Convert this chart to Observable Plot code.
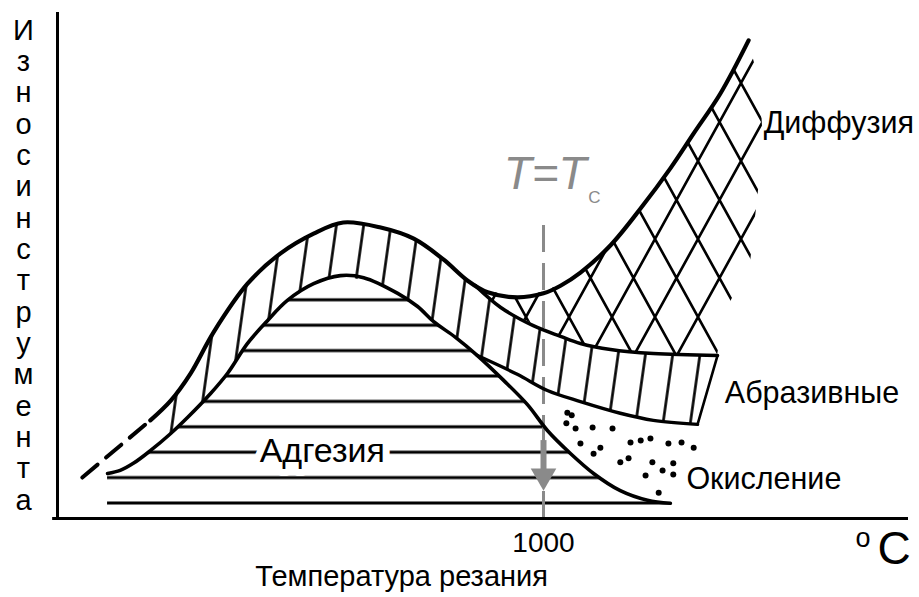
<!DOCTYPE html>
<html><head><meta charset="utf-8">
<script src="https://cdn.jsdelivr.net/npm/d3@7"></script>
<script src="https://cdn.jsdelivr.net/npm/@observablehq/plot@0.6"></script>
<style>body{margin:0;background:#fff}</style>
</head><body><div id="chart"></div>
<script>
// ---- data (x: cutting temperature, °C; y: tool wear, arbitrary units) ----
const xTicks = [1000];
const tCritical = 1000;
const yLabelText = "Износ инструмента";
const xLabelText = "Температура резания";

const outerDash = [[51, 8.1], [191, 19.4]];
const outerCurve = [[191,19.4],[233,23.3],[274,28.7],[321,36.8],[391,46.4],[459,52.4],[527,56.3],[588,58.5],[665,57.5],[733,55.3],[794,51.2],[844,47.0],[885,44.7],[946,43.7],[1000,44.5],[1035,46.0],[1076,48.6],[1138,54.0],[1200,61.3],[1261,69.2],[1309,76.1],[1364,84.0],[1422,94.5]];
const adhesionCurve = [[103,8.9],[129,9.5],[156,10.9],[191,13.4],[233,16.8],[268,20.0],[315,24.7],[350,28.7],[391,34.6],[432,39.1],[473,43.1],[527,46.4],[582,48.0],[630,47.6],[700,44.5],[741,41.9],[774,38.9],[819,35.8],[864,32.2],[918,27.3],[967,22.5],[1008,17.4],[1056,12.8],[1103,8.9],[1158,5.5],[1214,3.6],[1261,3.0]];
const abrasionCurve = [[864,32.2],[946,28.5],[1008,25.3],[1076,23.1],[1158,20.8],[1226,19.4],[1317,18.6]];
const diffusionEdge = [[860,46.0],[912,41.7],[979,38.1],[1035,36.0],[1076,34.6],[1138,33.4],[1226,32.6],[1358,32.2]];
const bandEnd = [[1358,32.2],[1317,18.6]];

const bandX      = [191,233,274,321,391,459,527,588,665,733,794,844,864,912,946,1008,1076,1138,1226,1317,1358];
const bandTop    = [19.4,23.3,28.7,36.8,46.4,52.4,56.3,58.5,57.5,55.3,51.2,47.0,45.7,41.7,39.9,37.0,34.6,33.4,32.6,32.3,32.2];
const bandBottom = [13.4,16.8,20.7,25.1,34.6,41.7,46.4,48.0,46.0,42.5,37.5,33.8,32.2,30.0,28.5,25.3,23.1,21.3,19.4,18.6,32.2];

const diffX      = [864,912,946,1008,1076,1138,1200,1226,1261,1309,1358,1364,1374,1422,1426,1446,1453];
const diffTop    = [45.8,44.3,43.7,44.9,48.6,54.0,61.3,64.6,69.2,76.1,83.2,84.0,85.9,94.5,93.0,85.6,73.1];
const diffBottom = [45.6,41.7,39.9,37.0,34.6,33.4,32.8,32.6,32.5,32.3,32.2,35.4,40.7,49.8,50.6,68.0,73.1];

const adhesionBase = 2.0;
const oxidationDots = [[1047,18.8],[1066,17.8],[1058,20.4],[1049,20.9],[1101,18.0],[1142,17.8],[1076,14.8],[1103,12.8],[1117,14.0],[1179,15.0],[1200,15.4],[1220,15.8],[1257,14.8],[1284,15.0],[1309,14.0],[1158,11.1],[1175,11.9],[1224,11.1],[1245,9.5],[1267,10.9],[1210,8.5],[1267,8.7],[1237,5.1]];

const regionLabels = [
  {text: "Диффузия",   x: 1453, y: 76.1},
  {text: "Абразивные", x: 1373, y: 22.9},
  {text: "Окисление",  x: 1294, y: 5.9},
];
const adhesionLabel = {text: "Адгезия", x: 416, y: 11.1};

// ---- tables built from the arrays ----
const band = bandX.map((x, i) => ({x, top: bandTop[i], bottom: bandBottom[i]}));
const diff = diffX.map((x, i) => ({x, top: diffTop[i], bottom: diffBottom[i]}));

const black = "#000";
const gray = "#8a8a8a";

const chart = Plot.plot({
  width: 919,
  height: 597,
  marginLeft: 57,
  marginRight: 11,
  marginTop: 12,
  marginBottom: 79,
  style: {fontFamily: "'Liberation Sans', Arial, sans-serif", background: "#fff", overflow: "visible"},
  x: {domain: [0, 1751], label: null},
  y: {domain: [0, 100], axis: null},
  marks: [
    Plot.areaY(adhesionCurve, {x: d => d[0], y1: adhesionBase, y2: d => d[1], curve: "catmull-rom", fill: "url(#hatchH)"}),
    Plot.areaY(band, {x: "x", y1: "bottom", y2: "top", fill: "url(#hatchV)"}),
    Plot.areaY(diff, {x: "x", y1: "bottom", y2: "top", fill: "url(#hatchX)"}),
    Plot.dot(oxidationDots, {x: d => d[0], y: d => d[1], r: 3, fill: black}),
    Plot.ruleX([tCritical], {y1: 0, y2: 59.5, stroke: gray, strokeWidth: 3, strokeDasharray: "27,11"}),
    Plot.ruleX([tCritical], {y1: 9.5, y2: 15.4, stroke: gray, strokeWidth: 6}),
    Plot.dot([tCritical], {x: d => d, y: 8.4, symbol: "triangle", rotate: 180, r: 9.5, fill: gray}),
    Plot.line(outerDash, {x: d => d[0], y: d => d[1], stroke: black, strokeWidth: 4, strokeDasharray: "20,11"}),
    Plot.line(outerCurve, {x: d => d[0], y: d => d[1], curve: "catmull-rom", stroke: black, strokeWidth: 4.2}),
    Plot.line(adhesionCurve, {x: d => d[0], y: d => d[1], curve: "catmull-rom", stroke: black, strokeWidth: 3.6}),
    Plot.line(abrasionCurve, {x: d => d[0], y: d => d[1], curve: "catmull-rom", stroke: black, strokeWidth: 3.4}),
    Plot.line(diffusionEdge, {x: d => d[0], y: d => d[1], curve: "catmull-rom", stroke: black, strokeWidth: 3.6}),
    Plot.line(bandEnd, {x: d => d[0], y: d => d[1], stroke: black, strokeWidth: 2.6}),
    Plot.ruleX([0], {stroke: black, strokeWidth: 3}),
    Plot.ruleY([0], {x1: -10, x2: 1751, stroke: black, strokeWidth: 3}),
    Plot.axisX({ticks: xTicks, tickSize: 0, tickPadding: 14, tickFormat: "d", fontSize: 28, fill: black, label: null}),
    Plot.text([adhesionLabel], {x: "x", y: "y", text: "text", textAnchor: "start", lineAnchor: "bottom", fontSize: 34, fill: black, stroke: "#fff", strokeWidth: 14, paintOrder: "stroke"}),
    Plot.text(regionLabels, {x: "x", y: "y", text: "text", textAnchor: "start", lineAnchor: "bottom", fontSize: 30.5, fill: black}),
    Plot.text(["T=T"], {x: 918, y: 65.2, text: d => d, textAnchor: "start", lineAnchor: "bottom", fontSize: 46, fontStyle: "italic", fill: gray}),
    Plot.text(["C"], {x: 1092, y: 62.4, text: d => d, textAnchor: "start", lineAnchor: "bottom", fontSize: 17, fill: gray}),
    Plot.text([xLabelText], {x: 407, y: -13.4, text: d => d, textAnchor: "start", lineAnchor: "bottom", fontSize: 29, fill: black}),
    Plot.text(["o"], {x: 1642, y: -5.7, text: d => d, textAnchor: "start", lineAnchor: "bottom", fontSize: 27, fill: black}),
    Plot.text(["C"], {x: 1687, y: -8.9, text: d => d, textAnchor: "start", lineAnchor: "bottom", fontSize: 46, fill: black}),
    Plot.text([yLabelText.replace(/\s+/g, "").split("").join("\n")], {frameAnchor: "top-left", dx: -34, dy: 5, text: d => d, lineAnchor: "top", textAnchor: "middle", fontSize: 29, lineHeight: 1.08, fill: black})
  ]
});

const ns = "http://www.w3.org/2000/svg";
const defs = document.createElementNS(ns, "defs");
defs.innerHTML = `
<pattern id="hatchH" patternUnits="userSpaceOnUse" x="0" y="7.7" width="20" height="25.4">
  <line x1="-1" x2="21" y1="12.7" y2="12.7" stroke="#000" stroke-width="3"/>
</pattern>
<pattern id="hatchV" patternUnits="userSpaceOnUse" x="0" y="0" width="27" height="27" patternTransform="rotate(8)">
  <line x1="13.5" x2="13.5" y1="-1" y2="28" stroke="#000" stroke-width="2.6"/>
</pattern>
<pattern id="hatchX" patternUnits="userSpaceOnUse" x="10" y="5" width="43" height="78">
  <path d="M0,0L43,78M0,78L43,0" stroke="#000" stroke-width="2.6" fill="none"/>
</pattern>`;
chart.insertBefore(defs, chart.firstChild);
document.getElementById("chart").appendChild(chart);
</script>
</body></html>
